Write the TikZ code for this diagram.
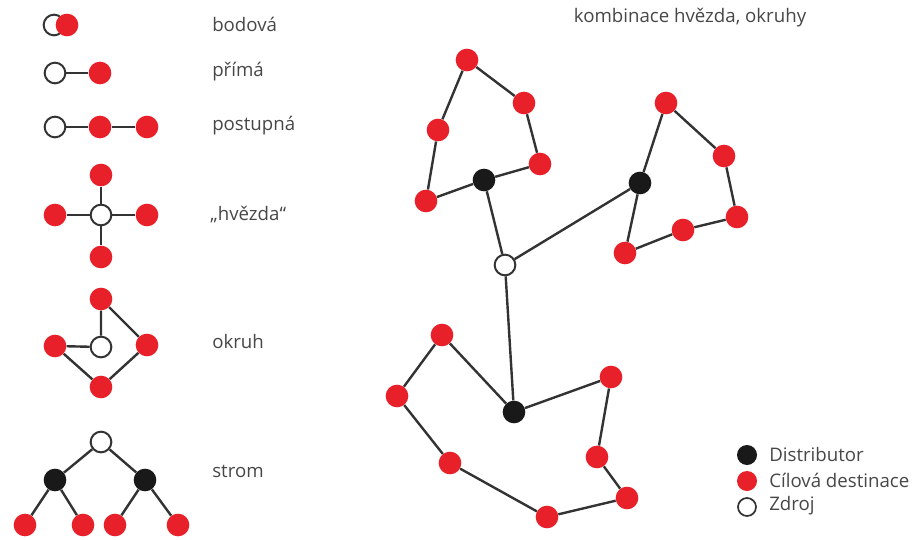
\documentclass[tikz,border=0pt]{standalone}
\usepackage{fontspec}
\setmainfont{Open Sans}
\usepackage{tikz}
\usetikzlibrary{positioning}
\definecolor{cilred}{HTML}{E8202A}
\definecolor{edgegray}{HTML}{333333}
\tikzstyle{cil} = [circle, fill=cilred, minimum size=17pt, inner sep=0pt]
\tikzstyle{dist} = [circle, fill=black!90, minimum size=17pt, inner sep=0pt]
\tikzstyle{zdroj} = [circle, draw=edgegray, line width=1.5pt, fill=white, minimum size=15.5pt, inner sep=0pt]
\tikzstyle{spoj} = [draw=edgegray, line width=1.8pt]
\tikzstyle{popis} = [anchor=west, inner sep=0pt, text=black!72, font=\fontsize{14}{16}\selectfont]

\begin{document}
\begin{tikzpicture}[x=0.75pt, y=-0.75pt]
            \useasboundingbox (0,0) rectangle (924,539);

            % typy distribuce vlevo
            \node[zdroj] (b0) at (54,25) {};
            \node[cil] (b1) at (67,25) {};
            \node[popis] (tb) at (212,24) {bodová};

            \node[zdroj] (p0) at (55,73) {};
            \node[cil] (p1) at (100,73) {};
            \draw[spoj] (p0) -- (p1);
            \node[popis] (tp) at (212,72) {přímá};

            \node[zdroj] (s0) at (55,127) {};
            \node[cil] (s1) at (100,127) {};
            \node[cil] (s2) at (147,127) {};
            \draw[spoj] (s0) -- (s1) -- (s2);
            \node[popis] (ts) at (212,126) {postupná};

            \node[zdroj] (h0) at (101,215) {};
            \node[cil] (h1) at (101,175) {};
            \node[cil] (h2) at (147,215) {};
            \node[cil] (h3) at (101,257) {};
            \node[cil] (h4) at (55,215) {};
            \foreach \i in {1,...,4}
                \draw[spoj] (h0) -- (h\i);
            \node[popis] (th) at (210,215) {„hvězda“};

            \node[zdroj] (o0) at (101,347) {};
            \node[cil] (o1) at (101,299) {};
            \node[cil] (o2) at (147,345) {};
            \node[cil] (o3) at (101,387) {};
            \node[cil] (o4) at (55,346) {};
            \draw[spoj] (o0) -- (o1) -- (o2) -- (o3) -- (o4) -- (o0);
            \node[popis] (to) at (212,341) {okruh};

            \node[zdroj] (r0) at (101,442) {};
            \node[dist] (r1) at (55,480) {};
            \node[dist] (r2) at (145,480) {};
            \node[cil] (r3) at (25,525) {};
            \node[cil] (r4) at (83,525) {};
            \node[cil] (r5) at (115,525) {};
            \node[cil] (r6) at (178,525) {};
            \draw[spoj] (r3) -- (r1) -- (r0) -- (r2) -- (r6);
            \draw[spoj] (r1) -- (r4);
            \draw[spoj] (r2) -- (r5);
            \node[popis] (tr) at (212,471) {strom};

            % kombinace
            \node[popis, anchor=center] (tk) at (690,18) {kombinace hvězda, okruhy};

            \node[zdroj] (z) at (505,265) {};

            \node[dist] (d1) at (484,180) {};
            \node[cil] (a1) at (467,60) {};
            \node[cil] (a2) at (524,103) {};
            \node[cil] (a3) at (540,164) {};
            \node[cil] (a4) at (426,201) {};
            \node[cil] (a5) at (438,130) {};
            \draw[spoj] (d1) -- (a3) -- (a2) -- (a1) -- (a5) -- (a4) -- (d1);

            \node[dist] (d2) at (640,183) {};
            \node[cil] (c1) at (666,103) {};
            \node[cil] (c2) at (724,156) {};
            \node[cil] (c3) at (737,217) {};
            \node[cil] (c4) at (683,230) {};
            \node[cil] (c5) at (625,253) {};
            \draw[spoj] (d2) -- (c1) -- (c2) -- (c3) -- (c4) -- (c5) -- (d2);

            \node[dist] (d3) at (514,412) {};
            \node[cil] (e1) at (442,335) {};
            \node[cil] (e2) at (397,396) {};
            \node[cil] (e3) at (450,463) {};
            \node[cil] (e4) at (547,517) {};
            \node[cil] (e5) at (627,498) {};
            \node[cil] (e6) at (597,457) {};
            \node[cil] (e7) at (611,377) {};
            \draw[spoj] (d3) -- (e1) -- (e2) -- (e3) -- (e4) -- (e5) -- (e6) -- (e7) -- (d3);

            \draw[spoj] (d1) -- (z) -- (d2);
            \draw[spoj] (z) -- (d3);

            % legenda
            \node[dist, minimum size=15pt] (l1) at (747,455) {};
            \node[cil, minimum size=15pt] (l2) at (747,481) {};
            \node[zdroj, minimum size=13.5pt, line width=1.3pt] (l3) at (747,507) {};
            \node[popis] (tl1) at (769,454) {Distributor};
            \node[popis] (tl2) at (769,480) {Cílová destinace};
            \node[popis] (tl3) at (769,506) {Zdroj};
\end{tikzpicture}
\end{document}
